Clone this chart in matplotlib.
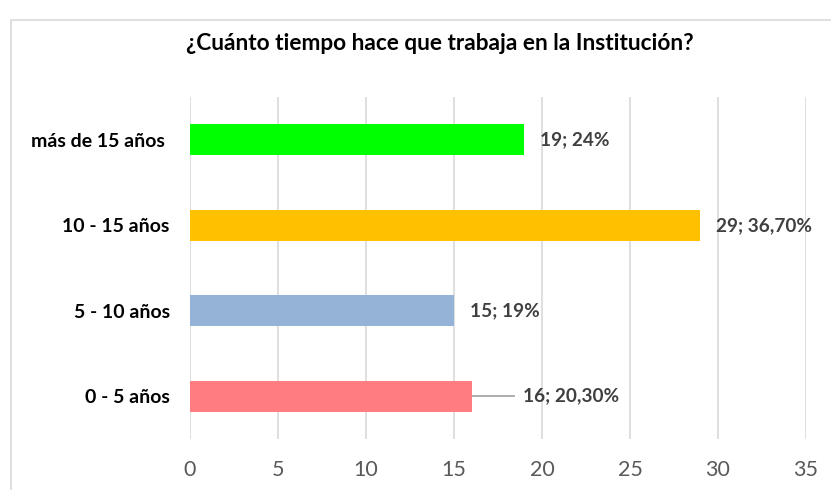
import matplotlib.pyplot as plt
from matplotlib.patches import Rectangle

plt.rcParams['font.family'] = ['Lato', 'DejaVu Sans']

categorias = ['0 - 5 años', '5 - 10 años', '10 - 15 años', 'más de 15 años ']
valores = [16, 15, 29, 19]
etiquetas = ['16; 20,30%', '15; 19%', '29; 36,70%', '19; 24%']
colores = ['#FF7C80', '#95B3D7', '#FFC000', '#00FF00']

fig = plt.figure(figsize=(8.31, 4.90), dpi=100)
ax = fig.add_axes([190 / 831, 1 - 439 / 490, 616 / 831, 342 / 490])

# marco del gráfico
fig.patches.append(Rectangle((11 / 831, -0.1), 1.2, 1 - 20 / 490 + 0.1,
                             transform=fig.transFigure, fill=False,
                             edgecolor='#D9D9D9', lw=1.2))

y = range(len(categorias))
ax.barh(y, valores, height=0.36, color=colores, zorder=3)

for i, (v, t) in enumerate(zip(valores, etiquetas)):
    dx = 0.9
    if i == 0:
        # línea guía
        ax.plot([v, v + 2.4], [i, i], color='#A6A6A6', lw=1.3, zorder=2)
        dx = 2.9
    ax.text(v + dx, i, t, va='center', ha='left', fontsize=13.7,
            fontweight='bold', color='#404040')

ax.set_xlim(0, 35)
ax.set_ylim(-0.5, 3.5)
ax.set_xticks(range(0, 36, 5))
ax.set_yticks(list(y))
ax.set_yticklabels(categorias, fontsize=14, fontweight='bold', color='black')
ax.tick_params(axis='y', length=0, pad=14.5)
ax.tick_params(axis='x', length=0, pad=15, labelsize=15.5, labelcolor='#595959')
ax.grid(axis='x', color='#D9D9D9', lw=1.2, zorder=0)
for s in ax.spines.values():
    s.set_visible(False)

fig.text(440 / 831, 1 - 43 / 490, '¿Cuánto tiempo hace que trabaja en la Institución?',
         ha='center', va='center', fontsize=16.3, fontweight='bold')

plt.savefig('out.png', dpi=100)
